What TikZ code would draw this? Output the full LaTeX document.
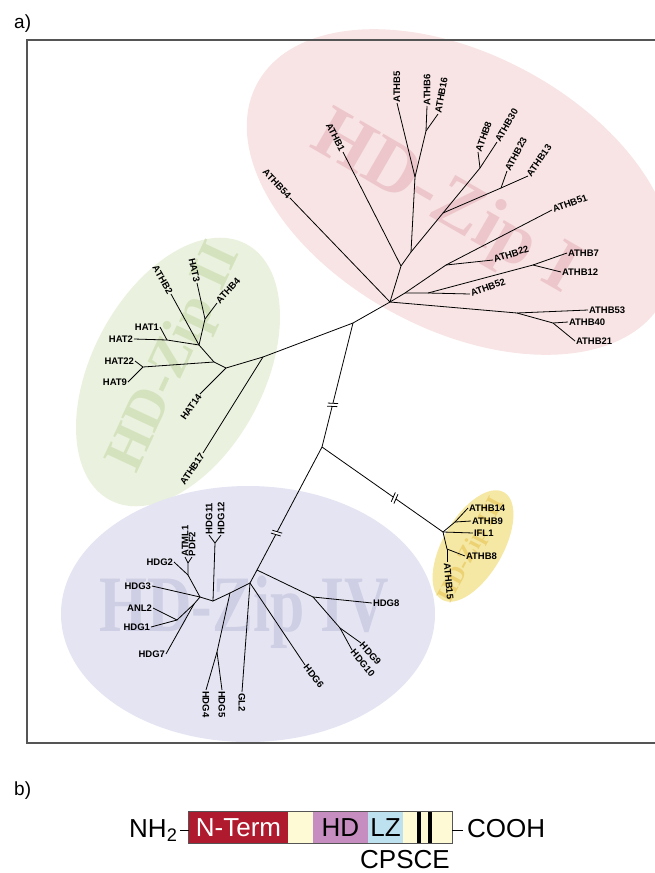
\documentclass[tikz,border=0pt]{standalone}
\usepackage{fontspec}
\setmainfont{Liberation Sans}
\newfontfamily\wmfont{Liberation Serif}
\usetikzlibrary{calc}
\definecolor{pinkfill}{RGB}{248,228,228}
\definecolor{pinktext}{RGB}{236,198,202}
\definecolor{greenfill}{RGB}{234,241,222}
\definecolor{greentext}{RGB}{212,226,190}
\definecolor{purplefill}{RGB}{228,228,242}
\definecolor{purpletext}{RGB}{206,206,228}
\definecolor{yellowfill}{RGB}{245,232,165}
\definecolor{yellowtext}{RGB}{236,210,115}
\definecolor{framegray}{RGB}{85,85,85}
\definecolor{nred}{RGB}{176,26,46}
\definecolor{cream}{RGB}{255,250,214}
\definecolor{mauve}{RGB}{198,142,192}
\definecolor{lblue}{RGB}{190,225,240}
\tikzset{
  br/.style={line width=0.8pt, black},
  lbl/.style={font=\bfseries\fontsize{9.5}{10}\selectfont, inner sep=0.8pt},
  wm/.style={font=\wmfont\bfseries\fontsize{#1}{#1}\selectfont, inner sep=0pt},
  seg/.style={inner sep=0pt, minimum height=31pt, font=\fontsize{26}{26}\selectfont, draw=none},
  brkm/.pic={
    \draw[white, line width=2.2pt] (-1.4,0) -- (1.4,0);
    \draw[line width=0.8pt] (-2.6,-5) -- (-0.6,5);
    \draw[line width=0.8pt] (0.6,-5) -- (2.6,5);
  }
}
\begin{document}
\begin{tikzpicture}[x=1pt,y=-1pt]
\useasboundingbox (0,0) rectangle (654,873);
% clade ellipses
\fill[pinkfill, shift={(460,192)}, rotate=-28] (0,0) ellipse [x radius=230, y radius=138];
\fill[greenfill, shift={(178,372)}, rotate=62] (0,0) ellipse [x radius=145, y radius=86];
\fill[purplefill] (248,614) ellipse [x radius=187, y radius=128];
\fill[yellowfill, shift={(473,546)}, rotate=60] (0,0) ellipse [x radius=62, y radius=30];
% watermarks
\node[wm=74, text=pinktext, rotate=-30] (wmI) at (445,205) {HD-Zip I};
\node[wm=56, text=greentext, rotate=65] (wmII) at (176,358) {HD-Zip II};
\node[wm=80, text=purpletext, xscale=0.77] (wmIV) at (244,612) {HD-Zip IV};
\node[wm=24, text=yellowtext, rotate=62] (wmIII) at (472,550) {HD-Zip III};
% frame
\draw[framegray, line width=1.5pt] (670,40) -- (27,40) -- (27,743) -- (670,743);
% ---------- HD-Zip I (pink) ----------
\coordinate (R) at (390,302);
\coordinate (PA) at (401,266);
\coordinate (PB) at (411,252);
\coordinate (PC) at (415,177);
\coordinate (PD) at (426,131);
\coordinate (PJa) at (443,213);
\coordinate (PJb) at (480,168);
\coordinate (PJc) at (501,188);
\coordinate (PS1) at (405,293);
\coordinate (PK2) at (446,265);
\coordinate (PS2) at (428,293);
\coordinate (PJd) at (533,265);
\coordinate (PJe) at (517,313);
\coordinate (PJf) at (553,323);
\node[lbl, anchor=east, rotate=-47] (athb54) at (290,198) {ATHB54};
\node[lbl, anchor=east, rotate=-63] (athb1) at (343,152) {ATHB1};
\node[lbl, anchor=west, rotate=90] (athb5) at (397,103) {ATHB5};
\node[lbl, anchor=west, rotate=90] (athb6) at (427,106) {ATHB6};
\node[lbl, anchor=west, rotate=80] (athb16) at (438,114) {ATHB16};
\node[lbl, anchor=west, rotate=70] (athb8) at (478,152) {ATHB8};
\node[lbl, anchor=west, rotate=60] (athb30) at (497,142) {ATHB30};
\node[lbl, anchor=west, rotate=62] (athb23) at (507,171) {ATHB23};
\node[lbl, anchor=west, rotate=55] (athb13) at (528,176) {ATHB13};
\node[lbl, anchor=west, rotate=20] (athb51) at (552,210) {ATHB51};
\node[lbl, anchor=west, rotate=18] (athb22) at (493,260) {ATHB22};
\node[lbl, anchor=west, rotate=20] (athb52) at (470,294) {ATHB52};
\node[lbl, anchor=west] (athb7) at (567,253) {ATHB7};
\node[lbl, anchor=west] (athb12) at (561,272) {ATHB12};
\node[lbl, anchor=west] (athb53) at (588,310) {ATHB53};
\node[lbl, anchor=west] (athb40) at (568,322) {ATHB40};
\node[lbl, anchor=west] (athb21) at (575,341) {ATHB21};
\draw[br] (R) -- (athb54.east);
\draw[br] (R) -- (PA) -- (PB) -- (PC) -- (athb5.west);
\draw[br] (PA) -- (athb1.east);
\draw[br] (PC) -- (PD) -- (athb6.west);
\draw[br] (PD) -- (athb16.west);
\draw[br] (PB) -- (PJa) -- (PJb) -- (athb8.west);
\draw[br] (PJb) -- (athb30.west);
\draw[br] (PJa) -- (PJc) -- (athb23.west);
\draw[br] (PJc) -- (athb13.west);
\draw[br] (R) -- (PS1) -- (PK2) -- (athb51.west);
\draw[br] (PK2) -- (athb22.west);
\draw[br] (PS1) -- (PS2) -- (PJd) -- (athb7.west);
\draw[br] (PJd) -- (athb12.west);
\draw[br] (PS2) -- (athb52.west);
\draw[br] (R) -- (PJe) -- (athb53.west);
\draw[br] (PJe) -- (PJf) -- (athb40.west);
\draw[br] (PJf) -- (athb21.west);
% ---------- HD-Zip II (green) ----------
\coordinate (J0) at (353,323);
\coordinate (G1) at (263,357);
\coordinate (G2) at (226,368);
\coordinate (G3) at (214,362);
\coordinate (G4) at (143,367);
\coordinate (G5) at (199,345);
\coordinate (G7) at (167,340);
\coordinate (G6) at (205,319);
\node[lbl, anchor=east, rotate=56] (athb17) at (203,453) {ATHB17};
\node[lbl, anchor=east, rotate=55] (hat14) at (200,394) {HAT14};
\node[lbl, anchor=east] (hat22) at (135,361) {HAT22};
\node[lbl, anchor=east] (hat9) at (128,382) {HAT9};
\node[lbl, anchor=east] (hat2) at (134,339) {HAT2};
\node[lbl, anchor=east] (hat1) at (160,327) {HAT1};
\node[lbl, anchor=east, rotate=-60] (athb2) at (171,294) {ATHB2};
\node[lbl, anchor=east, rotate=-78] (hat3) at (197,283) {HAT3};
\node[lbl, anchor=west, rotate=48] (athb4) at (217,303) {ATHB4};
\draw[br] (J0) -- (R);
\draw[br] (J0) -- (G1) -- (athb17.east);
\draw[br] (G1) -- (G2) -- (hat14.east);
\draw[br] (G2) -- (G3) -- (G4) -- (hat22.east);
\draw[br] (G4) -- (hat9.east);
\draw[br] (G3) -- (G5) -- (G7) -- (hat2.east);
\draw[br] (G7) -- (hat1.east);
\draw[br] (G5) -- (athb2.east);
\draw[br] (G5) -- (G6) -- (hat3.east);
\draw[br] (G6) -- (athb4.west);
% ---------- backbone ----------
\coordinate (J1) at (322,447);
\coordinate (Y0) at (443,532);
\coordinate (Q1) at (257,570);
\draw[br] (J0) -- (J1);
\draw[br] (J1) -- (Y0);
\draw[br] (J1) -- (Q1);
\coordinate (brk1) at ($(J0)!0.66!(J1)$);
\coordinate (brk2) at ($(J1)!0.6!(Y0)$);
\coordinate (brk3) at ($(J1)!0.7!(Q1)$);
\pic[rotate=-104] at (brk1) {brkm};
\pic[rotate=-35] at (brk2) {brkm};
\pic[rotate=-118] at (brk3) {brkm};
% ---------- yellow clade ----------
\coordinate (Y1) at (455,522);
\coordinate (Y2) at (447,549);
\node[lbl, anchor=west] (yathb14) at (468,508) {ATHB14};
\node[lbl, anchor=west] (yathb9) at (471,521) {ATHB9};
\node[lbl, anchor=west] (ifl1) at (473,533) {IFL1};
\node[lbl, anchor=west] (yathb8) at (465,556) {ATHB8};
\node[lbl, anchor=west, rotate=-85] (athb15) at (447,562) {ATHB15};
\draw[br] (Y0) -- (Y1) -- (yathb14.west);
\draw[br] (Y1) -- (yathb9.west);
\draw[br] (Y0) -- (ifl1.west);
\draw[br] (Y0) -- (Y2) -- (yathb8.west);
\draw[br] (Y2) -- (athb15.west);
% ---------- HD-Zip IV (purple) ----------
\coordinate (H1) at (313,597);
\coordinate (H2) at (340,628);
\coordinate (Q2) at (250,583);
\coordinate (Q3) at (230,593);
\coordinate (H4) at (217,652);
\coordinate (Q4) at (213,601);
\coordinate (H5) at (215,543);
\coordinate (Q5) at (200,597);
\coordinate (H6) at (188,575);
\coordinate (H7) at (188,563);
\coordinate (Q6) at (194,604);
\coordinate (H8) at (177,620);
\node[lbl, anchor=west] (hdg8) at (372,603) {HDG8};
\node[lbl, anchor=west, rotate=-48] (hdg9) at (361,643) {HDG9};
\node[lbl, anchor=west, rotate=-50] (hdg10) at (352,650) {HDG10};
\node[lbl, anchor=west, rotate=-52] (hdg6) at (305,665) {HDG6};
\node[lbl, anchor=west, rotate=-90] (gl2) at (242,692) {GL2};
\node[lbl, anchor=west, rotate=-90] (hdg4) at (206,690) {HDG4};
\node[lbl, anchor=west, rotate=-90] (hdg5) at (222,690) {HDG5};
\node[lbl, anchor=west, rotate=90] (hdg11) at (209,535) {HDG11};
\node[lbl, anchor=west, rotate=90] (hdg12) at (221,535) {HDG12};
\node[lbl, anchor=east] (hdg2) at (174,562) {HDG2};
\node[lbl, anchor=west, rotate=90] (atml1) at (185,557) {ATML1};
\node[lbl, anchor=west, rotate=90] (pdf2) at (192,557) {PDF2};
\node[lbl, anchor=east] (hdg3) at (152,586) {HDG3};
\node[lbl, anchor=east] (anl2) at (153,608) {ANL2};
\node[lbl, anchor=east] (hdg1) at (151,627) {HDG1};
\node[lbl, anchor=east] (hdg7) at (166,654) {HDG7};
\draw[br] (Q1) -- (H1) -- (hdg8.west);
\draw[br] (H1) -- (H2) -- (hdg9.west);
\draw[br] (H2) -- (hdg10.west);
\draw[br] (Q1) -- (Q2) -- (hdg6.west);
\draw[br] (Q2) -- (gl2.west);
\draw[br] (Q2) -- (Q3) -- (H4) -- (hdg4.west);
\draw[br] (H4) -- (hdg5.west);
\draw[br] (Q3) -- (Q4) -- (H5) -- (hdg11.west);
\draw[br] (H5) -- (hdg12.west);
\draw[br] (Q4) -- (Q5) -- (H6) -- (hdg2.east);
\draw[br] (H6) -- (H7) -- (atml1.west);
\draw[br] (H7) -- (pdf2.west);
\draw[br] (Q5) -- (hdg3.east);
\draw[br] (Q5) -- (Q6) -- (H8) -- (anl2.east);
\draw[br] (H8) -- (hdg1.east);
\draw[br] (Q6) -- (hdg7.east);
% ---------- panel labels ----------
\node[anchor=base west, font=\fontsize{19}{19}\selectfont, inner sep=0pt] (pa) at (14,28) {a)};
\node[anchor=base west, font=\fontsize{19}{19}\selectfont, inner sep=0pt] (pb) at (14,795) {b)};
% ---------- panel b ----------
\node[seg, fill=nred, text=white, minimum width=99pt] (nterm) at (238.5,827.5) {N-Term};
\node[seg, fill=cream, minimum width=25pt] (cream1) at (300.5,827.5) {};
\node[seg, fill=mauve, minimum width=55pt] (hd) at (340.5,827.5) {HD};
\node[seg, fill=lblue, minimum width=35pt] (lz) at (385.5,827.5) {LZ};
\node[seg, fill=cream, minimum width=49pt] (cream2) at (427.5,827.5) {};
\fill[black] (417,812) rectangle (421,843);
\fill[black] (428,812) rectangle (432,843);
\draw[framegray, line width=0.8pt] (nterm.north west) rectangle (cream2.south east);
\node[anchor=base west, font=\fontsize{26}{26}\selectfont, inner sep=0pt] (nh2) at (129,837) {NH\textsubscript{2}};
\node[anchor=base west, font=\fontsize{26}{26}\selectfont, inner sep=0pt] (cooh) at (467,837) {COOH};
\node[anchor=base, font=\fontsize{26}{26}\selectfont, inner sep=0pt] (cpsce) at (405,868) {CPSCE};
\coordinate (ldash) at (180,830);
\coordinate (rdash) at (463,830);
\draw[line width=1pt] (ldash) -- (ldash -| nterm.west);
\draw[line width=1pt] (cream2.east |- rdash) -- (rdash);
\end{tikzpicture}
\end{document}
